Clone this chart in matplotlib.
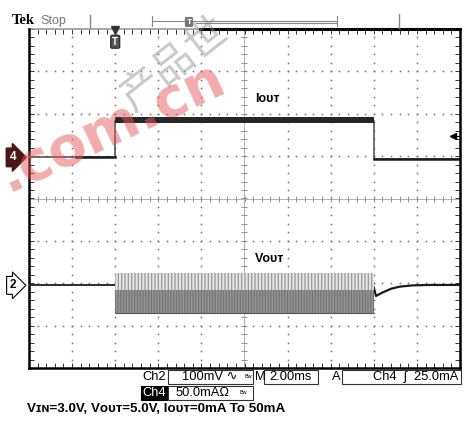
import numpy as np
import matplotlib
matplotlib.use("Agg")
import matplotlib.pyplot as plt
from matplotlib.patches import Rectangle
from matplotlib.lines import Line2D

plt.rcParams['font.family'] = ['Liberation Sans', 'DejaVu Sans']
plt.rcParams['hatch.linewidth'] = 0.9

# screen in divisions: x -5..5, y -4..4
# Ch4 (Iout) trace
iout_t = [-5, -3, -3, 3, 3, 5]
iout_v = [0.97, 0.97, 1.84, 1.84, 0.93, 0.93]
iout_band_t = [-3, 3]
iout_band_top = [1.92, 1.92]
iout_band_bot = [1.77, 1.77]

# Ch2 (Vout) trace, before and after the load pulse
vout_pre_t = [-5, -3]
vout_pre_v = [-2.05, -2.05]
vout_post_t = [3.0, 3.05, 3.2, 3.4, 3.6, 3.9, 4.3, 5.0]
vout_post_v = [-2.10, -2.30, -2.22, -2.13, -2.08, -2.05, -2.04, -2.04]
# ripple envelope while the load is on
ripple_t = [-3, 3]
ripple_top = [-1.75, -1.75]
ripple_mid = [-2.17, -2.17]
ripple_bot = [-2.71, -2.71]

trig_pos = -3.0      # trigger point (div)
trig_level = 1.47    # Ch4 trigger level (div)
ch4_ref = 0.97
ch2_ref = -2.05

W, H = 466, 423
def fx(x):
    return x / W
def fy(y):
    return 1 - y / H

fig = plt.figure(figsize=(W / 100, H / 100), dpi=100)
fig.patch.set_facecolor('white')

# watermark
fig.text(fx(-10), fy(203), '.com.cn', fontsize=40, fontweight='bold', color='#e65a5a',
         alpha=0.5, rotation=25, ha='left', va='bottom', family=['DejaVu Sans'], zorder=0)
fig.text(fx(112), fy(118), '产品世', fontsize=30, color='#8a8a8a', alpha=0.45,
         rotation=38, ha='left', va='bottom', family=['Noto Sans CJK SC', 'DejaVu Sans'], zorder=0)

ax = fig.add_axes([fx(29), 55 / H, 431 / W, 339 / H])
ax.set_facecolor('none')
ax.set_xlim(-5, 5)
ax.set_ylim(-4, 4)

# graticule dots
gx = [v for v in range(-4, 5) if v != 0]
gy = [v for v in range(-3, 4) if v != 0]
ys = np.arange(-4, 4.001, 0.2)
xs = np.arange(-5, 5.001, 0.2)
for v in gx:
    ax.plot(np.full_like(ys, v), ys, ls='none', marker='s', ms=1.1, mew=0, color='#707070')
for v in gy:
    ax.plot(xs, np.full_like(xs, v), ls='none', marker='s', ms=1.1, mew=0, color='#707070')
# center cross with ticks
ax.axhline(0, color='#b0b0b0', lw=0.7)
ax.axvline(0, color='#b0b0b0', lw=0.7)
ax.plot(xs, np.zeros_like(xs), ls='none', marker='|', ms=5, mew=0.7, color='#909090')
ax.plot(np.zeros_like(ys), ys, ls='none', marker='_', ms=5, mew=0.7, color='#909090')

# Ch4 Iout
ax.plot(iout_t, iout_v, color='#555555', lw=1.2, zorder=3)
ax.fill_between(iout_band_t, iout_band_bot, iout_band_top, color='#262626', lw=0, zorder=3)
ax.plot([-3.9, -3.0], [ch4_ref, ch4_ref], color='#1a1a1a', lw=1.8, zorder=3)
ax.plot([3, 5], [0.93, 0.93], color='#1a1a1a', lw=1.8, zorder=3)

# Ch2 Vout
ax.plot(vout_pre_t, vout_pre_v, color='#2a2a2a', lw=1.4, zorder=3)
ax.plot(vout_post_t, vout_post_v, color='#1a1a1a', lw=1.6, zorder=3)
ax.fill_between(ripple_t, ripple_mid, ripple_top, facecolor='#e4e4e4', edgecolor='#9a9a9a',
                hatch='|||||', lw=0, zorder=3)
ax.fill_between(ripple_t, ripple_bot, ripple_mid, facecolor='#959595', edgecolor='#747474',
                hatch='||||||', lw=0, zorder=3)
ax.plot(ripple_t, ripple_bot, color='#555555', lw=0.8, zorder=3)

# labels
ax.text(0.25, 2.34, 'Iᴏᴜᴛ', fontsize=9, fontweight='bold', va='center', ha='left')
ax.text(0.25, -1.42, 'Vᴏᴜᴛ', fontsize=9, fontweight='bold', va='center', ha='left')

# trigger markers
ax.plot([4.84], [trig_level], marker='<', ms=5, color='black', clip_on=False)
ax.plot([4.84, 4.98], [trig_level, trig_level], color='black', lw=0.8)
ax.plot([trig_pos], [3.97], marker='v', ms=6, color='#333333', clip_on=False, zorder=5)
ax.text(trig_pos, 3.7, 'T', fontsize=7, fontweight='bold', color='white', ha='center', va='center',
        bbox=dict(boxstyle='round,pad=0.15', fc='#555555', ec='#333333'))

# channel markers
ax.text(-5.3, ch4_ref, '4', fontsize=8.5, fontweight='bold', color='white', ha='right', va='center',
        bbox=dict(boxstyle='rarrow,pad=0.28', fc='#4a1616', ec='#4a1616'), clip_on=False)
ax.text(-5.3, ch2_ref, '2', fontsize=8.5, fontweight='bold', color='black', ha='right', va='center',
        bbox=dict(boxstyle='rarrow,pad=0.25', fc='white', ec='black', lw=0.8), clip_on=False)

# frame
ax.set_xticks(xs)
ax.set_yticks(ys)
ax.tick_params(direction='in', length=3.5, width=0.7, color='#333333', top=True, right=True,
               labelbottom=False, labelleft=False)
for s in ['left', 'right', 'bottom']:
    ax.spines[s].set_linewidth(1.8)
ax.spines['top'].set_visible(False)
ax.plot([0, 0.397], [1, 1], transform=ax.transAxes, color='#999999', lw=1.2, clip_on=False)
ax.plot([0.397, 1], [1, 1], transform=ax.transAxes, color='black', lw=2.2, clip_on=False)

# header
fig.text(fx(12), fy(21), 'Tek', fontsize=10.5, fontweight='bold', family=['Liberation Serif'],
         va='center', ha='left')
fig.text(fx(40), fy(21), 'Stop', fontsize=9, color='#777777', va='center', ha='left')
def fline(xx, yy, **kw):
    fig.add_artist(Line2D([fx(v) for v in xx], [fy(v) for v in yy], transform=fig.transFigure, **kw))
fline([90, 90], [15, 28], color='#888888', lw=1)
fline([399, 399], [14, 28], color='#888888', lw=1)
fline([152, 337], [21, 21], color='#888888', lw=0.8)
fline([196, 337], [23, 23], color='#888888', lw=0.8)
fline([152, 152], [16, 26], color='#888888', lw=0.8)
fline([337, 337], [16, 26], color='#888888', lw=0.8)
fig.text(fx(189), fy(22), 'T', fontsize=6, fontweight='bold', color='white', ha='center', va='center',
         bbox=dict(boxstyle='round,pad=0.1', fc='#777777', ec='#777777'))

# readout
def fbox(x0, y0, x1, y1, fc='none', ec='#333333'):
    fig.add_artist(Rectangle((fx(x0), fy(y1)), (x1 - x0) / W, (y1 - y0) / H,
                             transform=fig.transFigure, fc=fc, ec=ec, lw=0.8))
fs = 9.3
fig.text(fx(166), fy(377), 'Ch2', fontsize=fs, ha='right', va='center')
fbox(168, 370, 253, 384)
fig.text(fx(182), fy(377), '100mV ∿', fontsize=fs, ha='left', va='center')
fig.text(fx(244), fy(376), 'Bw', fontsize=4, ha='left', va='center')
fig.text(fx(255), fy(377), 'M', fontsize=fs, ha='left', va='center')
fbox(264, 370, 318, 384)
fig.text(fx(291), fy(377), '2.00ms', fontsize=fs, ha='center', va='center')
fig.text(fx(332), fy(377), 'A', fontsize=fs, ha='left', va='center')
fbox(342, 370, 461, 384)
fig.text(fx(458), fy(377), 'Ch4  ʃ  25.0mA', fontsize=fs, ha='right', va='center')
fbox(141, 386, 167, 400, fc='black', ec='black')
fig.text(fx(154), fy(393), 'Ch4', fontsize=fs, ha='center', va='center', color='white')
fbox(168, 386, 253, 400)
fig.text(fx(176), fy(393), '50.0mAΩ', fontsize=fs, ha='left', va='center')
fig.text(fx(240), fy(392), 'Bw', fontsize=4, ha='left', va='center')
fig.text(fx(27), fy(409), 'Vɪɴ=3.0V, Vᴏᴜᴛ=5.0V, Iᴏᴜᴛ=0mA To 50mA', fontsize=9.6, fontweight='bold',
         ha='left', va='center')

fig.savefig('out.png', dpi=100)
